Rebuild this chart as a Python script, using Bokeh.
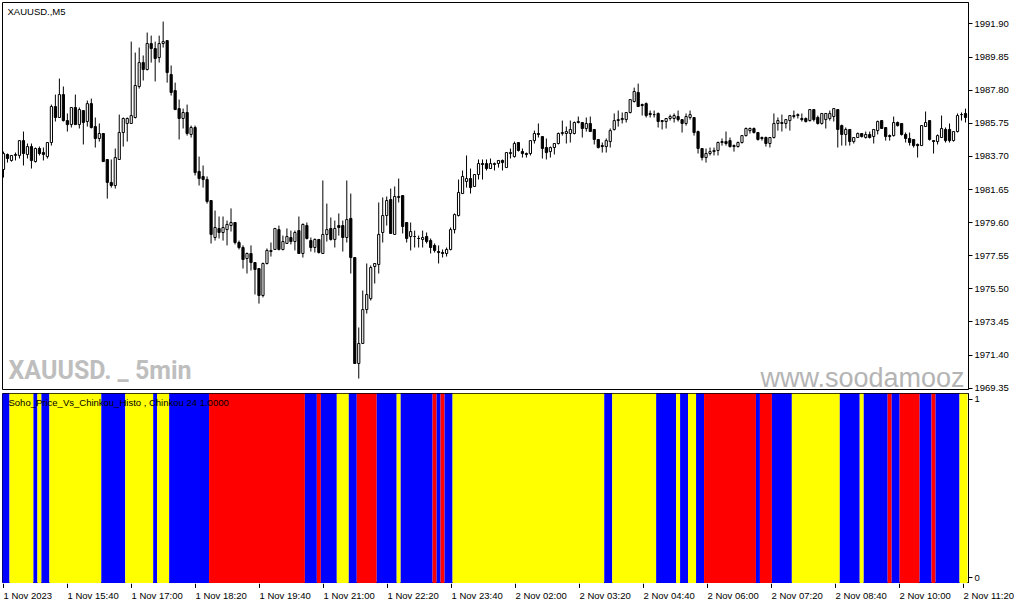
from bokeh.plotting import figure
from bokeh.models import Range1d, FixedTicker, ColumnDataSource, PrintfTickFormatter
from bokeh.layouts import column
from bokeh.embed import file_html
from bokeh.resources import INLINE
from bokeh.core.properties import value

# ---------------- data (XAUUSD M5) ----------------
opens = [1982.89,1983.82,1983.45,1983.76,1983.76,1984.68,1983.82,1984.31,1983.38,1984.19,
1983.94,1983.69,1984.56,1986.79,1986.11,1987.53,1985.92,1985.67,1986.73,1985.67,
1986.54,1985.86,1986.97,1985.55,1984.81,1985.12,1983.51,1982.09,1981.90,1983.51,
1985.18,1985.74,1985.74,1986.11,1988.03,1989.51,1989.08,1990.69,1990.38,1989.82,
1990.69,1990.87,1988.77,1987.78,1986.66,1986.05,1986.42,1985.06,1985.49,1982.77,
1982.46,1982.27,1980.97,1978.68,1979.24,1978.99,1979.17,1979.42,1979.61,1978.37,
1978.06,1977.38,1977.69,1977.13,1976.76,1975.09,1977.07,1977.81,1977.94,1979.17,
1977.94,1978.31,1978.68,1978.43,1979.11,1977.69,1979.42,1978.49,1978.06,1978.56,
1977.69,1978.87,1979.24,1978.56,1979.42,1979.42,1978.68,1979.86,1977.44,1970.88,
1972.12,1974.22,1974.90,1976.88,1977.01,1978.99,1980.04,1981.03,1978.87,1981.16,
1981.28,1979.61,1978.74,1978.74,1978.62,1978.56,1978.74,1978.49,1978.19,1977.81,
1977.75,1977.69,1977.94,1979.17,1980.04,1981.40,1982.15,1982.33,1981.84,1982.58,
1983.26,1983.26,1982.95,1983.20,1983.26,1983.45,1983.01,1983.88,1983.69,1984.56,
1984.00,1983.88,1983.88,1984.68,1985.12,1984.93,1984.25,1984.00,1984.25,1984.50,
1985.12,1985.12,1985.12,1985.12,1985.80,1985.80,1985.43,1985.74,1985.37,1984.75,
1984.37,1984.31,1984.62,1985.37,1985.92,1985.98,1985.98,1986.42,1987.10,1987.66,
1986.91,1986.97,1986.36,1986.29,1986.36,1985.92,1985.86,1986.05,1986.05,1986.17,
1985.98,1985.74,1986.11,1986.11,1985.24,1984.19,1983.63,1983.88,1984.00,1984.07,
1984.56,1984.62,1984.68,1984.37,1984.31,1984.56,1984.99,1985.30,1985.43,1985.18,
1984.87,1984.87,1984.50,1984.87,1985.74,1985.80,1985.74,1985.92,1986.17,1986.23,
1986.05,1986.05,1985.92,1986.60,1986.11,1985.74,1985.98,1986.05,1986.17,1986.60,
1985.61,1985.06,1985.37,1984.62,1984.87,1985.12,1984.87,1985.06,1984.93,1985.30,
1985.92,1985.49,1984.99,1984.99,1985.80,1985.74,1985.06,1984.81,1984.75,1984.44,
1984.37,1985.55,1985.92,1984.68,1984.62,1984.87,1985.37,1985.37,1984.68,1985.24,
1986.29,1986.36]
highs = [1984.00,1983.88,1983.76,1983.94,1984.68,1985.24,1984.50,1984.50,1984.25,1984.31,
1984.25,1984.56,1986.91,1987.53,1988.52,1988.03,1986.36,1986.73,1987.53,1986.73,
1986.54,1987.16,1987.28,1986.11,1985.74,1985.12,1983.51,1983.51,1984.19,1986.29,
1986.11,1986.11,1990.81,1990.13,1990.44,1989.95,1991.37,1991.18,1990.81,1991.18,
1992.05,1990.87,1989.33,1988.27,1987.22,1986.66,1986.91,1985.61,1985.61,1983.69,
1983.14,1982.46,1980.97,1980.35,1979.98,1979.98,1979.73,1980.48,1979.61,1978.49,
1978.19,1977.75,1978.19,1977.13,1976.76,1977.13,1978.00,1978.37,1979.24,1979.42,
1978.80,1979.24,1979.11,1979.11,1979.98,1979.55,1979.61,1978.68,1978.62,1978.56,
1982.21,1980.78,1979.92,1979.73,1980.17,1979.73,1982.21,1981.40,1977.44,1973.11,
1975.40,1977.07,1976.95,1977.07,1980.85,1981.16,1981.22,1981.71,1981.84,1982.33,
1981.28,1979.61,1979.61,1979.11,1978.80,1979.11,1978.99,1978.62,1978.31,1978.19,
1977.94,1978.06,1979.30,1980.17,1982.27,1982.83,1983.76,1982.95,1982.58,1983.51,
1983.51,1983.51,1983.57,1983.32,1983.45,1983.51,1983.94,1984.19,1984.62,1984.56,
1984.19,1983.94,1984.68,1985.30,1985.74,1984.93,1984.81,1984.31,1984.50,1985.18,
1985.92,1985.55,1985.92,1985.86,1986.17,1985.80,1986.11,1986.17,1985.37,1984.75,
1984.56,1984.81,1985.43,1986.36,1986.54,1986.42,1986.42,1987.22,1987.96,1988.21,
1986.97,1987.04,1986.54,1986.54,1986.42,1985.92,1986.05,1986.29,1986.36,1986.54,
1985.98,1986.36,1986.54,1986.11,1985.30,1984.19,1984.19,1984.25,1984.25,1984.62,
1984.81,1985.24,1984.87,1984.44,1984.62,1984.99,1985.49,1985.49,1985.49,1985.18,
1984.93,1984.93,1984.87,1986.36,1986.11,1986.29,1985.98,1986.23,1986.54,1986.36,
1986.36,1986.11,1986.60,1986.60,1986.23,1986.36,1986.36,1986.54,1986.66,1986.60,
1985.67,1985.49,1985.37,1984.87,1985.18,1985.12,1985.24,1985.24,1985.37,1985.92,
1985.92,1985.49,1985.06,1986.17,1985.86,1985.74,1985.18,1985.18,1984.75,1984.50,
1985.61,1986.48,1985.92,1984.68,1985.06,1986.23,1985.49,1985.74,1985.24,1986.36,
1986.42,1986.66]
lows = [1982.39,1983.32,1983.38,1983.45,1983.57,1983.14,1983.57,1982.95,1983.32,1983.76,
1983.45,1983.57,1984.37,1985.86,1986.11,1985.86,1985.24,1985.49,1985.67,1985.43,
1984.44,1985.55,1985.43,1984.25,1984.62,1983.38,1981.09,1981.77,1981.71,1983.51,
1984.31,1984.62,1985.74,1986.05,1987.90,1988.40,1989.02,1989.51,1988.34,1989.51,
1990.44,1988.27,1987.47,1986.60,1984.75,1985.43,1984.99,1984.87,1982.52,1981.90,
1981.77,1980.78,1978.31,1978.49,1978.62,1978.49,1978.19,1979.05,1978.25,1977.94,
1976.76,1976.45,1976.64,1975.15,1974.59,1974.97,1977.01,1977.50,1977.94,1977.88,
1977.88,1978.31,1978.25,1977.88,1977.69,1977.44,1978.56,1977.81,1977.75,1977.69,
1977.69,1978.43,1978.49,1978.06,1978.80,1977.81,1978.37,1976.45,1970.88,1969.95,
1972.12,1973.97,1974.78,1975.83,1976.45,1978.37,1979.42,1978.93,1978.87,1980.85,
1978.93,1978.37,1977.88,1978.06,1978.06,1978.06,1978.31,1977.69,1977.75,1977.07,
1977.44,1977.50,1977.88,1978.93,1979.98,1981.40,1981.77,1981.40,1981.84,1982.27,
1982.27,1982.83,1982.95,1982.83,1983.01,1982.83,1983.01,1983.57,1983.63,1984.00,
1983.63,1983.63,1983.76,1984.50,1984.87,1983.57,1983.51,1983.63,1983.82,1984.44,
1984.99,1984.50,1984.56,1985.06,1985.74,1984.87,1985.24,1985.24,1984.44,1984.19,
1983.94,1983.94,1984.25,1985.30,1985.55,1985.74,1985.80,1986.36,1987.04,1986.79,
1986.23,1986.11,1986.11,1986.11,1985.49,1985.37,1985.43,1985.92,1985.80,1985.86,
1985.18,1985.61,1985.98,1984.99,1983.88,1983.45,1983.32,1983.76,1983.76,1983.76,
1984.37,1984.37,1984.25,1984.00,1984.25,1984.50,1984.93,1985.12,1985.12,1984.68,
1984.68,1984.31,1984.25,1984.81,1985.30,1985.24,1985.43,1985.30,1986.05,1986.05,
1985.86,1985.80,1985.86,1985.86,1985.67,1985.67,1985.43,1985.92,1985.86,1984.25,
1984.37,1984.37,1984.37,1984.50,1984.87,1984.87,1984.81,1984.81,1984.50,1985.06,
1985.43,1984.68,1984.68,1984.93,1985.55,1984.99,1984.56,1984.37,1984.25,1983.63,
1984.37,1985.55,1984.68,1983.88,1984.44,1984.87,1984.56,1984.56,1984.62,1985.18,
1985.92,1985.80]
closes = [1983.88,1983.57,1983.76,1983.82,1984.68,1983.88,1984.31,1983.45,1984.19,1983.88,
1983.82,1984.56,1986.79,1986.11,1987.53,1985.92,1985.67,1986.73,1985.67,1986.60,
1985.80,1986.97,1985.49,1984.81,1985.12,1983.38,1982.09,1981.90,1983.63,1985.18,
1986.05,1986.05,1986.23,1988.09,1989.51,1989.08,1990.69,1990.38,1989.76,1990.69,
1990.81,1988.89,1987.66,1986.60,1986.05,1986.42,1985.12,1985.49,1982.70,1982.33,
1982.27,1980.91,1978.87,1979.30,1978.99,1979.30,1979.49,1979.61,1978.37,1978.06,
1977.32,1977.69,1977.13,1976.70,1975.09,1977.07,1977.88,1977.88,1979.24,1977.94,
1978.43,1978.74,1978.43,1978.99,1977.69,1979.49,1978.62,1978.06,1978.56,1977.75,
1978.87,1979.17,1978.56,1979.24,1979.30,1978.68,1979.79,1977.44,1970.88,1972.12,
1974.22,1975.15,1976.82,1977.07,1978.87,1980.04,1980.97,1978.93,1981.22,1981.22,
1979.36,1978.62,1979.05,1978.74,1978.62,1978.68,1978.43,1978.06,1977.88,1977.75,
1977.69,1977.94,1979.17,1980.10,1981.47,1982.46,1982.33,1981.77,1982.58,1983.26,
1983.20,1982.95,1983.26,1983.26,1983.45,1983.32,1983.94,1983.94,1984.50,1984.07,
1983.88,1983.82,1984.68,1985.12,1985.06,1984.19,1983.94,1984.25,1984.50,1985.12,
1985.18,1985.24,1985.37,1985.80,1985.86,1985.43,1985.74,1985.24,1984.75,1984.25,
1984.31,1984.68,1985.30,1985.92,1985.98,1986.05,1986.42,1987.22,1987.72,1986.79,
1986.85,1986.23,1986.29,1986.29,1985.86,1985.86,1986.05,1986.17,1986.23,1985.98,
1985.74,1986.17,1986.29,1985.18,1984.19,1983.63,1983.88,1984.00,1984.07,1984.56,
1984.62,1984.50,1984.31,1984.31,1984.56,1984.99,1985.43,1985.43,1985.18,1984.75,
1984.81,1984.50,1984.87,1985.74,1985.92,1985.74,1985.98,1986.23,1986.23,1986.29,
1985.98,1985.86,1986.60,1985.98,1985.74,1986.36,1986.36,1986.36,1986.66,1985.37,
1985.06,1985.37,1984.62,1984.87,1985.12,1984.93,1985.06,1984.87,1985.37,1985.86,
1985.43,1984.93,1984.93,1985.80,1985.61,1985.06,1984.81,1984.56,1984.37,1984.37,
1985.61,1985.80,1984.75,1984.62,1984.99,1985.43,1984.68,1984.68,1985.24,1986.23,
1986.29,1986.11]

# Soho_Price_Vs_Chinkou_Histo state per bar, as runs (B=blue, Y=yellow, R=red)
hist_states = ["B","Y","B","Y","B","Y","B","Y","B","Y","B","R","B","R","B","Y","B","R","B","Y",
               "B","R","B","R","B","Y","B","Y","B","Y","B","Y","B","R","B","R","B","Y","B","Y",
               "B","R","B","R","B","R","B","Y"]
hist_counts = [2,6,1,1,2,13,6,7,1,3,10,24,3,1,4,3,2,5,5,1,
               8,1,1,1,2,38,2,11,5,1,2,2,2,13,1,3,5,12,5,1,
               6,1,2,5,3,1,6,2]
state_colors = {"B": "#0000FF", "Y": "#FFFF00", "R": "#FF0000"}

price_ticks = [1969.35, 1971.40, 1973.45, 1975.50, 1977.55, 1979.60,
               1981.65, 1983.70, 1985.75, 1987.80, 1989.85, 1991.90]
time_tick_bars = [0, 16, 32, 48, 64, 80, 96, 112, 128, 144, 160, 176, 192, 208, 224, 240]
time_labels = ["1 Nov 2023", "1 Nov 15:40", "1 Nov 17:00", "1 Nov 18:20", "1 Nov 19:40",
               "1 Nov 21:00", "1 Nov 22:20", "1 Nov 23:40", "2 Nov 02:00", "2 Nov 03:20",
               "2 Nov 04:40", "2 Nov 06:00", "2 Nov 07:20", "2 Nov 08:40", "2 Nov 10:00",
               "2 Nov 11:20"]

# ---------------- layout ----------------
W = 1011
W3 = 1014
AXW = 41
LB = 2
FONT = value("Liberation Sans")
FS = "9.5px"

n = len(opens)
idx = list(range(n))
X0, X1 = -0.25, n - 0.25
xr = Range1d(X0, X1)
frame_w = W - AXW - LB
pxb = frame_w / (X1 - X0)
YLO, YHI = 1969.27, 1993.23


def style_axis(ax):
    ax.major_tick_out = 4
    ax.major_tick_in = 0
    ax.minor_tick_line_color = None
    ax.axis_line_color = "black"
    ax.major_tick_line_color = "black"
    ax.major_label_text_font = "Liberation Sans"
    ax.major_label_text_font_size = FS
    ax.major_label_text_color = "black"
    ax.major_label_standoff = 2


# price pane
p1 = figure(width=W, height=393, x_range=xr, y_range=Range1d(YLO, YHI),
            output_backend="svg", toolbar_location=None, y_axis_location="right",
            x_axis_location=None, min_border_left=LB, min_border_right=AXW,
            min_border_top=2, min_border_bottom=4)
p1.grid.visible = False
p1.outline_line_color = "black"
p1.outline_line_alpha = 1.0
p1.background_fill_color = "white"
p1.border_fill_color = "white"
p1.yaxis.ticker = FixedTicker(ticks=price_ticks)
p1.yaxis.formatter = PrintfTickFormatter(format="%.2f")
style_axis(p1.yaxis[0])

bull = [i for i in idx if closes[i] >= opens[i]]
bear = [i for i in idx if closes[i] < opens[i]]
src = ColumnDataSource(dict(x=idx, o=opens, h=highs, l=lows, c=closes))
p1.segment(x0="x", y0="l", x1="x", y1="h", source=src, line_color="black", line_width=1)
p1.vbar(x=bull, bottom=[opens[i] for i in bull], top=[closes[i] for i in bull],
        width=0.55, fill_color="white", line_color="black", line_width=1)
p1.vbar(x=bear, bottom=[closes[i] for i in bear], top=[opens[i] for i in bear],
        width=0.55, fill_color="black", line_color="black", line_width=1)

# texts in price pane
p1.text(x=[X0], y=[YHI], text=["XAUUSD.,M5"], x_offset=5, y_offset=9,
        text_font=FONT, text_font_size=FS, text_color="black",
        text_align="left", text_baseline="middle")
p1.text(x=[X0], y=[YLO], text=["XAUUSD. _ 5min"], x_offset=6, y_offset=-19,
        text_font=value("Roboto"),
        text_font_style="bold", text_font_size="25px", text_color="#BEBEBE",
        text_align="left", text_baseline="middle")
p1.text(x=[X1], y=[YLO], text=["www.soodamooz"], x_offset=-4, y_offset=-12,
        text_font=FONT, text_font_size="27px", text_color="#B4B4B4",
        text_align="right", text_baseline="middle")

# indicator pane
p2 = figure(width=W, height=190, x_range=xr, y_range=Range1d(0, 1),
            output_backend="svg", toolbar_location=None, y_axis_location="right",
            x_axis_location=None, min_border_left=LB, min_border_right=AXW,
            min_border_top=0, min_border_bottom=0)
p2.grid.visible = False
p2.outline_line_color = "black"
p2.outline_line_alpha = 1.0
p2.yaxis.ticker = FixedTicker(ticks=[0.03, 0.97])
p2.yaxis.major_label_overrides = {0.03: "0", 0.97: "1"}
style_axis(p2.yaxis[0])

# histogram runs -> one block per run of equal state
run_left, run_right, run_color = [], [], []
start = 0
for s, c in zip(hist_states, hist_counts):
    run_left.append(start - 0.5)
    run_right.append(start + c - 0.5)
    run_color.append(state_colors[s])
    start += c
p2.quad(left=run_left, right=run_right, bottom=0, top=1, fill_color=run_color,
        line_color=None)
p2.text(x=[X0], y=[1.0], text=["Soho_Price_Vs_Chinkou_Histo , Chinkou 24  1.0000"],
        x_offset=6, y_offset=9, text_font=FONT, text_font_size=FS, text_color="black",
        text_align="left", text_baseline="middle")

# time axis strip (frame not aligned with the panes so labels may run under the price scale)
AX3 = W3 - LB - frame_w
p3 = figure(width=W3, height=20, x_range=Range1d(X0, X1 + AX3 / pxb), y_range=Range1d(0, 1),
            output_backend="svg", toolbar_location=None, x_axis_location=None,
            y_axis_location=None, min_border_left=LB, min_border_right=0,
            min_border_top=0, min_border_bottom=0)
p3.frame_align = False
p3.grid.visible = False
p3.outline_line_color = None
p3.segment(x0=time_tick_bars, y0=1, x1=time_tick_bars, y1=0.78,
           line_color="black", line_width=1)
p3.text(x=time_tick_bars, y=0.42, text=time_labels, x_offset=0,
        text_font=FONT, text_font_size=FS, text_color="black",
        text_align="left", text_baseline="middle")

layout = column(p1, p2, p3, spacing=0)
open("out.html", "w").write(file_html(layout, INLINE))
